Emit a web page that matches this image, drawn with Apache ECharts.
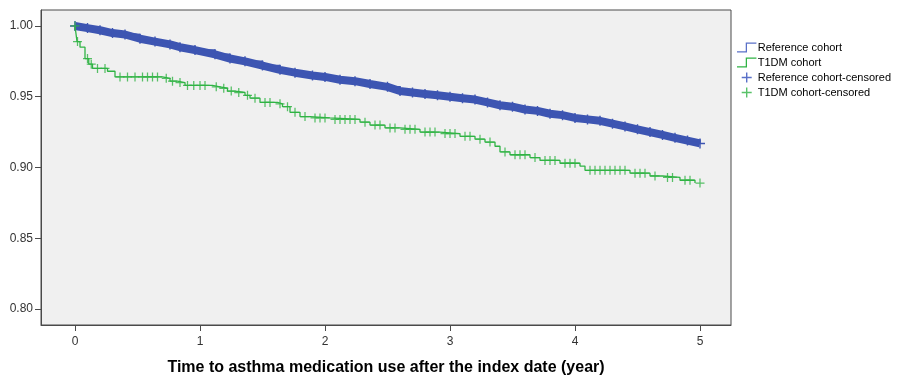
<!DOCTYPE html>
<html>
<head>
<meta charset="utf-8">
<script src="https://cdn.jsdelivr.net/npm/echarts@6/dist/echarts.min.js"></script>
<style>
html,body{margin:0;padding:0;background:#fff;}
#chart{width:906px;height:375px;}
</style>
</head>
<body>
<div id="chart"></div>
<script>
// ---- data ----
const xTicks = [0, 1, 2, 3, 4, 5];
const yTicks = [0.80, 0.85, 0.90, 0.95, 1.00];
const seriesNames = ['Reference cohort', 'T1DM cohort', 'Reference cohort-censored', 'T1DM cohort-censored'];
const xTitle = 'Time to asthma medication use after the index date (year)';

// Reference cohort Kaplan-Meier steps [time, survival]
const refSteps = [
  [0,1.000],[0.1,0.9985],[0.2,0.997],[0.3,0.995],[0.4,0.994],[0.52,0.991],[0.64,0.989],
  [0.76,0.987],[0.84,0.985],[0.96,0.983],[1.12,0.980],[1.24,0.977],[1.36,0.975],[1.5,0.972],
  [1.64,0.969],[1.76,0.967],[1.9,0.965],[2.0,0.964],[2.12,0.962],[2.24,0.961],[2.36,0.959],
  [2.5,0.957],[2.6,0.954],[2.7,0.953],[2.8,0.952],[2.9,0.951],[3.0,0.950],[3.1,0.949],
  [3.2,0.948],[3.3,0.946],[3.4,0.944],[3.5,0.943],[3.6,0.941],[3.7,0.940],[3.8,0.938],
  [3.9,0.937],[4.0,0.935],[4.1,0.934],[4.2,0.933],[4.3,0.931],[4.4,0.929],[4.5,0.927],
  [4.6,0.925],[4.7,0.923],[4.8,0.921],[4.9,0.919],[5.0,0.917]
];

// T1DM cohort Kaplan-Meier steps [time, survival]
const t1dmSteps = [
  [0,1.000],[0.016,0.989],[0.04,0.985],[0.08,0.977],[0.11,0.973],[0.14,0.970],[0.26,0.968],
  [0.32,0.964],[0.70,0.963],[0.76,0.961],[0.82,0.960],[0.88,0.958],[1.10,0.957],[1.16,0.956],
  [1.22,0.954],[1.28,0.953],[1.36,0.951],[1.40,0.949],[1.48,0.946],[1.62,0.945],[1.66,0.943],
  [1.72,0.939],[1.80,0.936],[1.88,0.935],[2.04,0.934],[2.28,0.932],[2.36,0.930],[2.48,0.928],
  [2.60,0.927],[2.76,0.925],[2.92,0.924],[3.08,0.922],[3.20,0.920],[3.28,0.918],[3.36,0.915],
  [3.40,0.911],[3.48,0.909],[3.64,0.907],[3.72,0.905],[3.88,0.903],[4.04,0.901],[4.08,0.898],
  [4.44,0.896],[4.60,0.894],[4.70,0.893],[4.84,0.891],[4.96,0.889]
];

// T1DM censored marks [time, survival]
const t1dmCensored = [
  [0.00,1.000],[0.02,0.989],[0.10,0.977],[0.13,0.973],[0.18,0.970],[0.24,0.970],[0.36,0.964],
  [0.42,0.964],[0.48,0.964],[0.54,0.964],[0.58,0.964],[0.62,0.964],[0.66,0.964],[0.73,0.963],
  [0.78,0.961],[0.84,0.960],[0.90,0.958],[0.95,0.958],[1.00,0.958],[1.04,0.958],[1.13,0.957],
  [1.19,0.956],[1.25,0.954],[1.31,0.953],[1.38,0.951],[1.44,0.949],[1.52,0.946],[1.56,0.946],
  [1.64,0.945],[1.70,0.943],[1.76,0.939],[1.84,0.936],[1.92,0.935],[1.96,0.935],[2.00,0.935],
  [2.08,0.934],[2.12,0.934],[2.16,0.934],[2.20,0.934],[2.24,0.934],[2.32,0.932],[2.40,0.930],
  [2.44,0.930],[2.52,0.928],[2.56,0.928],[2.64,0.927],[2.68,0.927],[2.72,0.927],[2.80,0.925],
  [2.84,0.925],[2.88,0.925],[2.96,0.924],[3.00,0.924],[3.04,0.924],[3.12,0.922],[3.16,0.922],
  [3.24,0.920],[3.32,0.918],[3.44,0.911],[3.52,0.909],[3.56,0.909],[3.60,0.909],[3.68,0.907],
  [3.76,0.905],[3.80,0.905],[3.84,0.905],[3.92,0.903],[3.96,0.903],[4.00,0.903],[4.12,0.898],
  [4.16,0.898],[4.20,0.898],[4.24,0.898],[4.28,0.898],[4.32,0.898],[4.36,0.898],[4.40,0.898],
  [4.48,0.896],[4.52,0.896],[4.56,0.896],[4.64,0.894],[4.74,0.893],[4.78,0.893],[4.88,0.891],
  [4.92,0.891],[5.00,0.889]
];

// ---- styling ----
const BLUE = '#3d55b2';
const BLUE_LEG = '#5a70c8';
const GREEN = '#2fb344';
const PLUS = 'path://M4.3,0h1.4v4.3h4.3v1.4h-4.3v4.3h-1.4v-4.3h-4.3v-1.4h4.3z';
const STEP = 'path://M0,9h9v-9h11v1.3h-9.7v9h-10.3z';

const chart = echarts.init(document.getElementById('chart'), null, {renderer: 'canvas'});
chart.setOption({
  animation: false,
  backgroundColor: '#ffffff',
  textStyle: {fontFamily: 'Liberation Sans, Arial, sans-serif'},
  grid: {
    left: 41, right: 175, top: 10, bottom: 50,
    outerBoundsMode: 'none', containLabel: false,
    show: true, backgroundColor: '#f0f0f0', borderColor: '#4a4a4a', borderWidth: 1
  },
  legend: {
    orient: 'vertical',
    left: 737, top: 42,
    padding: 0,
    itemGap: 4,
    itemWidth: 20, itemHeight: 10,
    textStyle: {fontSize: 11, color: '#000', padding: [0,0,0,-4]},
    data: [
      {name: seriesNames[0], icon: STEP, itemStyle: {color: BLUE_LEG}},
      {name: seriesNames[1], icon: STEP, itemStyle: {color: GREEN}},
      {name: seriesNames[2], icon: PLUS, itemStyle: {color: BLUE_LEG}},
      {name: seriesNames[3], icon: PLUS, itemStyle: {color: GREEN}}
    ]
  },
  xAxis: {
    type: 'value',
    min: -0.272, max: 5.248,
    name: xTitle,
    nameLocation: 'middle',
    nameGap: 35,
    nameTextStyle: {fontSize: 16, fontWeight: 'bold', color: '#000'},
    axisLine: {show: true, onZero: false, lineStyle: {color: '#4a4a4a'}},
    axisTick: {show: true, length: 6, lineStyle: {color: '#4a4a4a'}, customValues: xTicks},
    axisLabel: {fontSize: 12, color: '#333', margin: 11, customValues: xTicks, formatter: v => String(v)},
    splitLine: {show: false}
  },
  yAxis: {
    type: 'value',
    min: 0.7887, max: 1.0113,
    axisLine: {show: true, onZero: false, lineStyle: {color: '#4a4a4a'}},
    axisTick: {show: true, length: 6, lineStyle: {color: '#4a4a4a'}, customValues: yTicks},
    axisLabel: {fontSize: 12, color: '#333', margin: 8, customValues: yTicks, formatter: v => v.toFixed(2)},
    splitLine: {show: false}
  },
  series: [
    {
      name: seriesNames[2], type: 'line', data: refSteps,
      symbol: PLUS, symbolSize: 10, showSymbol: true, showAllSymbol: true,
      itemStyle: {color: BLUE}, lineStyle: {color: BLUE, width: 8}, z: 2
    },
    {
      name: seriesNames[0], type: 'line', step: 'end', data: refSteps,
      showSymbol: false, itemStyle: {color: BLUE}, lineStyle: {color: BLUE, width: 1.5}, z: 3
    },
    {
      name: seriesNames[1], type: 'line', step: 'end', data: t1dmSteps,
      showSymbol: false, itemStyle: {color: GREEN}, lineStyle: {color: GREEN, width: 1.3}, z: 4
    },
    {
      name: seriesNames[3], type: 'scatter', data: t1dmCensored,
      symbol: PLUS, symbolSize: 9, itemStyle: {color: GREEN}, z: 5
    }
  ]
});
</script>
</body>
</html>
